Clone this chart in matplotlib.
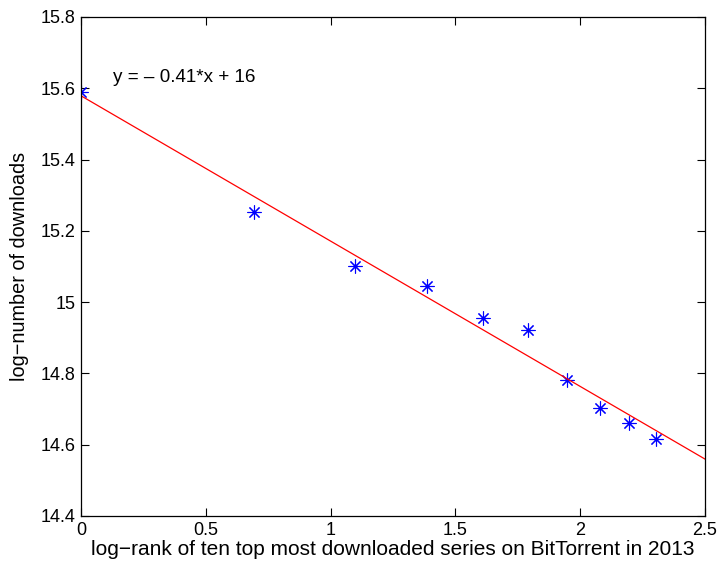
import numpy as np
import matplotlib
matplotlib.use("Agg")
import matplotlib.pyplot as plt

plt.rcParams['font.family'] = ['Liberation Sans', 'DejaVu Sans']

# rank 1..10 of the top series, log of downloads
ranks = np.arange(1, 11)
log_downloads = [15.589, 15.254, 15.102, 15.046, 14.955,
                 14.923, 14.781, 14.703, 14.661, 14.617]

log_rank = np.log(ranks)
slope, intercept = np.polyfit(log_rank, log_downloads, 1)
x_fit = np.array([0, 2.5])

fig = plt.figure(figsize=(7.21, 5.62), dpi=100)
ax = fig.add_axes([0.1123, 0.0819, 0.8655, 0.8879])

# matlab style '*' marker = plus and cross together
ax.plot(log_rank, log_downloads, linestyle='none', marker=(8, 2, 0), color='blue',
        markersize=10, markeredgewidth=0.8)
ax.plot(x_fit, slope * x_fit + intercept, '-', color='red', linewidth=0.9)

ax.text(0.128, 15.63, 'y = \u2013 0.41*x + 16', fontsize=13.6, va='center', ha='left')

ax.set_xlim(0, 2.5)
ax.set_ylim(14.4, 15.8)
ax.set_xticks([0, 0.5, 1, 1.5, 2, 2.5])
ax.set_xticklabels(['0', '0.5', '1', '1.5', '2', '2.5'])
ax.set_yticks([14.4, 14.6, 14.8, 15, 15.2, 15.4, 15.6, 15.8])
ax.set_yticklabels(['14.4', '14.6', '14.8', '15', '15.2', '15.4', '15.6', '15.8'])
ax.tick_params(direction='in', top=True, right=True, labelsize=13, length=6, pad=4)
for s in ax.spines.values():
    s.set_linewidth(0.9)

ax.set_xlabel('log\u2212rank of ten top most downloaded series on BitTorrent in 2013', fontsize=15, labelpad=1)
ax.set_ylabel('log\u2212number of downloads', fontsize=14.3, labelpad=8)

fig.savefig('out.png', dpi=100)
